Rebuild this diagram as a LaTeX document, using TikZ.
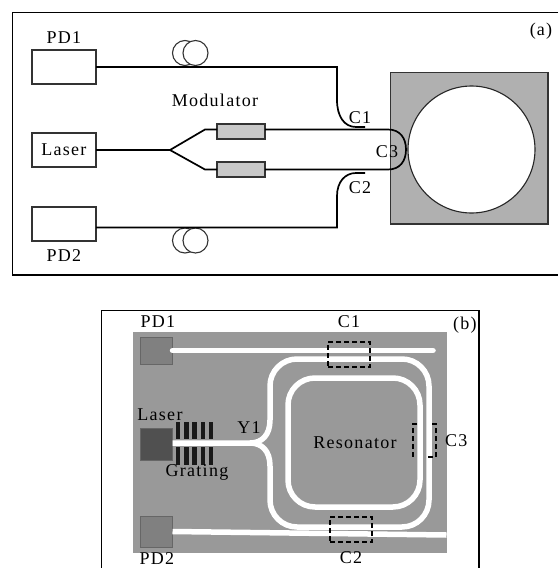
\documentclass[tikz,border=0pt]{standalone}
\usepackage{fontspec}
\setmainfont[LetterSpace=7]{Liberation Serif}
\usepackage{xcolor}
\usetikzlibrary{positioning}
\definecolor{chipgray}{HTML}{999999}
\definecolor{substrategray}{HTML}{B0B0B0}
\definecolor{armgray}{HTML}{C8C8C8}
\definecolor{padgray}{HTML}{808080}
\definecolor{lasergray}{HTML}{505050}

\begin{document}
\begin{tikzpicture}[
  x=1pt, y=-1pt,
  every node/.style={font=\fontsize{18}{20}\selectfont, inner sep=0pt, outer sep=0pt},
  devbox/.style={draw=black!80, line width=1.1pt, minimum width=64pt, minimum height=34pt},
  armbox/.style={draw=black!80, line width=1.1pt, fill=armgray, minimum width=48pt, minimum height=15pt},
  coil/.style={draw=black!80, circle, line width=1.1pt, fill=white, minimum size=25pt},
  fiber/.style={line width=1.7pt},
  guide/.style={draw=white, line width=5.5pt},
  pad/.style={draw=black!60, line width=0.8pt, minimum width=32pt, minimum height=27pt},
  bar/.style={fill=black!90, minimum width=4.5pt},
  coupler/.style={draw, line width=1.2pt, dash pattern=on 5pt off 3pt},
  frameline/.style={line width=1.2pt},
]
\useasboundingbox (0,0) rectangle (558,568);

% panel a
\draw[frameline] (558,12.5) -- (12.5,12.5) -- (12.5,275) -- (558,275);
\node[devbox] (pdone) at (64,67) {};
\node[devbox] (laser) at (64,150) {Laser};
\node[devbox] (pdtwo) at (64,224) {};
\node[above=6pt of pdone] (pdonelabel) {PD1};
\node[below=9pt of pdtwo] (pdtwolabel) {PD2};

\node[draw=black!80, line width=1.1pt, fill=substrategray, minimum width=157.5pt, minimum height=151.5pt] (substrate) at (469.25,148.25) {};
\node[draw=black!85, circle, line width=1.1pt, fill=white, minimum size=127pt] (disk) at (471.5,149.5) {};

\node[coil] (coilaback) at (185,53) {};
\node[coil] (coilafront) at (195.5,53) {};
\node[coil] (coilbback) at (185,240.5) {};
\node[coil] (coilbfront) at (195.5,240.5) {};

\node[armbox] (armtop) at (241,131.5) {};
\node[armbox] (armbot) at (241,169.5) {};
\node (modlabel) at (215,100) {Modulator};

\coordinate (split) at (170,150);
\coordinate (c1end) at (365,127);
\coordinate (c2end) at (365,173);
\draw[fiber] (laser) -- (split);
\draw[fiber] (split) -- (205,129.5) -- (armtop.west |- 0,129.5);
\draw[fiber] (split) -- (205,169.5) -- (armbot.west);
\draw[fiber] (armtop.east |- 0,129.5) -- (388,129.5) .. controls (400,129.5) and (406,138) .. (406,149.5) .. controls (406,161) and (400,169.5) .. (388,169.5) -- (armbot.east);
\draw[fiber] (pdone.east) -- (337,67) -- (337,100) .. controls (337,116) and (344,127) .. (356,127) -- (c1end);
\draw[fiber] (pdtwo.east |- 0,227.5) -- (337,227.5) -- (337,196) .. controls (337,182) and (345,173) .. (356,173) -- (c2end);

\node (cone) at (360,118) {C1};
\node (ctwo) at (360,188) {C2};
\node (cthree) at (387,152) {C3};
\node (panela) at (541,31) {(a)};

% panel b
\draw[frameline] (101.5,568) -- (101.5,310.5) -- (479,310.5) -- (479,568);
\node[fill=chipgray, minimum width=313.5pt, minimum height=221.5pt] (chip) at (289.75,442.25) {};

\node[pad, fill=padgray] (pdonepad) at (156.5,350.5) {};
\node[pad, fill=lasergray, minimum height=32pt] (laserpad) at (156.5,444) {};
\node[pad, fill=padgray, minimum height=31pt] (pdtwopad) at (156.5,531.5) {};

\foreach \i/\xpos in {1/178,2/186.5,3/194.5,4/203,5/211}{
  \node[bar, minimum height=17pt] (barup\i) at (\xpos,430.5) {};
  \node[bar, minimum height=18pt] (bardown\i) at (\xpos,456) {};
}

\coordinate (yone) at (250,443);
\coordinate (topend) at (433,350.5);
\coordinate (botend) at (446.5,535);
\draw[guide, line cap=round] (pdonepad.east |- 0,350.5) -- (topend);
\draw[guide] (pdtwopad.east) -- (botend);
\draw[guide] (laserpad.east |- 0,443) -- (yone) .. controls (262,443) and (270,435) .. (270,420);
\draw[guide] (yone) .. controls (262,443) and (270,451) .. (270,466);
\draw[guide, rounded corners=27pt] (270,420) -- (270,359) -- (429,359) -- (429,527) -- (270,527) -- (270,466);
\node[draw=white, line width=5.5pt, rounded corners=27pt, minimum width=132pt, minimum height=129pt] (ring) at (354,442.5) {};
\node (resonator) at (355,443) {Resonator};

\node[coupler, minimum width=42pt, minimum height=25pt] (cbone) at (349,354.5) {};
\node[coupler, minimum width=42pt, minimum height=25pt] (cbtwo) at (351,529.5) {};
\node[minimum width=23pt, minimum height=33pt] (cbthree) at (424.5,440.5) {};
\draw[coupler] (417,424) -- (cbthree.north west) -- (cbthree.south west);
\draw[coupler] (432,424) -- (cbthree.north east) -- (cbthree.south east) -- (428,457);

\node (pdonetext) at (158,322) {PD1};
\node (pdtwotext) at (157,559) {PD2};
\node (lasertext) at (160,415) {Laser};
\node (gratingtext) at (197,472) {Grating};
\node (yonetext) at (249,428) {Y1};
\node[above=14pt of cbone] (conetext) {C1};
\node[below=10pt of cbtwo] (ctwotext) {C2};
\node[right=9pt of cbthree] (cthreetext) {C3};
\node (panelb) at (465,325) {(b)};
\end{tikzpicture}
\end{document}
